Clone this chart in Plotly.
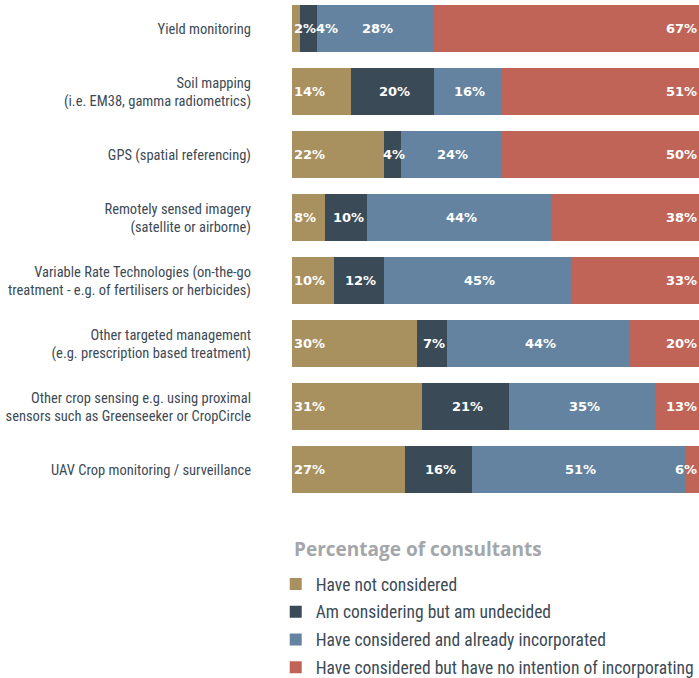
import plotly.graph_objects as go

# Survey categories (top to bottom)
categories = [
    "Yield monitoring",
    "Soil mapping<br>(i.e. EM38, gamma radiometrics)",
    "GPS (spatial referencing)",
    "Remotely sensed imagery<br>(satellite or airborne)",
    "Variable Rate Technologies (on-the-go<br>treatment - e.g. of fertilisers or herbicides)",
    "Other targeted management<br>(e.g. prescription based treatment)",
    "Other crop sensing e.g. using proximal<br>sensors such as Greenseeker or CropCircle",
    "UAV Crop monitoring / surveillance",
]

# Response shares (%) per category
not_considered = [2, 14, 22, 8, 10, 30, 31, 27]
undecided = [4, 20, 4, 10, 12, 7, 21, 16]
incorporated = [28, 16, 24, 44, 45, 44, 35, 51]
no_intention = [67, 51, 50, 38, 33, 20, 13, 6]

series_names = [
    "Have not considered",
    "Am considering but am undecided",
    "Have considered and already incorporated",
    "Have considered but have no intention of incorporating",
]
series_values = [not_considered, undecided, incorporated, no_intention]
colors = ["#A8905F", "#3A4B57", "#6483A0", "#C16458"]

TEXT_COLOR = "#3D4A55"
COND_FONT = "Roboto Condensed, DejaVu Sans Condensed, sans-serif"
label_font = dict(family="DejaVu Sans", size=13, color="white", weight="bold")

W, H = 699, 678
M_L, M_B = 292, 158
X_MAX = 97.4
plot_w = W - M_L
plot_h = H - M_B
px_per_unit = plot_w / X_MAX


def label_width_px(txt):
    # rough advance width of a bold 13px percentage label
    return 9 * (len(txt) - 1) + 13


fig = go.Figure()
for name, vals, col in zip(series_names, series_values, colors):
    fig.add_trace(go.Bar(
        y=categories, x=vals, name=name, orientation="h",
        marker=dict(color=col, line=dict(width=0)),
        legendgroup=name, hoverinfo="x+y",
    ))

# Value labels: first segment at bar start, middle ones centred (pushed right
# if they would collide with the previous label), last at the right edge
annotations = []
for i, cat in enumerate(categories):
    start = 0
    prev_right_px = 0
    for s, vals in enumerate(series_values):
        v = vals[i]
        txt = f"{v}%"
        wpx = label_width_px(txt)
        if s == 0:
            annotations.append(dict(x=0, y=cat, xref="x", yref="y", text=txt,
                                    xanchor="left", showarrow=False,
                                    font=label_font))
            prev_right_px = wpx
        elif s == len(series_values) - 1:
            annotations.append(dict(x=1, y=cat, xref="paper", yref="y", text=txt,
                                    xanchor="right", showarrow=False,
                                    font=label_font))
        else:
            centre_px = (start + v / 2) * px_per_unit
            left_px = max(centre_px - wpx / 2, prev_right_px)
            annotations.append(dict(x=left_px / px_per_unit, y=cat, xref="x", yref="y",
                                    text=txt, xanchor="left", showarrow=False,
                                    font=label_font))
            prev_right_px = left_px + wpx
        start += v

# Legend heading
annotations.append(dict(
    x=0, y=-29 / plot_h, xref="paper", yref="paper", xanchor="left", yanchor="middle",
    text="<b>Percentage of consultants</b>", showarrow=False,
    font=dict(family="Open Sans", size=19, color="#A3A6AA"),
))

fig.update_layout(
    width=W, height=H,
    margin=dict(l=M_L, r=0, t=0, b=M_B, autoexpand=False),
    barmode="stack", bargap=0.254,
    plot_bgcolor="white", paper_bgcolor="white",
    xaxis=dict(range=[0, X_MAX], showgrid=False, zeroline=False,
               showticklabels=False, showline=False, fixedrange=True),
    yaxis=dict(range=[7.794, -0.46], showgrid=False, zeroline=False,
               showline=False, ticks="", automargin=False,
               tickfont=dict(family=COND_FONT, size=14.5, color=TEXT_COLOR),
               ticklabelstandoff=40, fixedrange=True),
    legend=dict(
        font=dict(family=COND_FONT, size=17.5, color=TEXT_COLOR),
        orientation="v", x=-0.04, xanchor="left", y=-46 / plot_h, yanchor="top",
        traceorder="grouped", tracegroupgap=2, itemwidth=30,
        bgcolor="rgba(0,0,0,0)",
    ),
    annotations=annotations,
    showlegend=True,
)

fig.write_html("out.html")
